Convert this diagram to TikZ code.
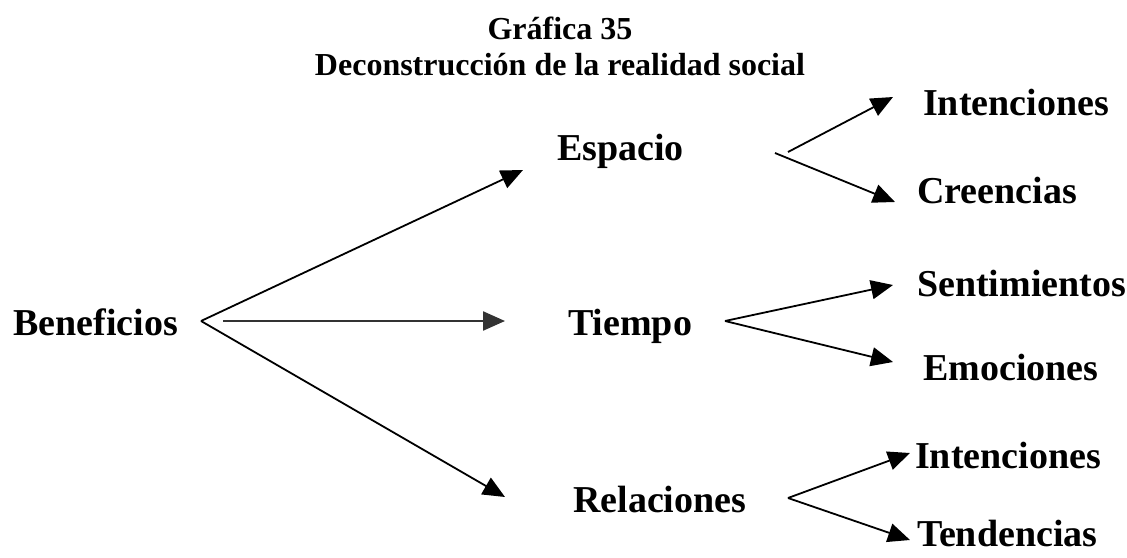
\documentclass[tikz,border=0pt]{standalone}
\usepackage{fontspec}
\setmainfont{Liberation Serif}
\usetikzlibrary{arrows.meta}

\begin{document}
\begin{tikzpicture}[x=1pt, y=-1pt,
    titlenode/.style={font=\fontsize{32}{36}\selectfont\bfseries, inner sep=0pt, anchor=base},
    itemnode/.style={font=\fontsize{38}{44}\selectfont\bfseries, inner sep=0pt, anchor=base west},
    branch/.style={-{Triangle[length=22pt, width=19pt]}, line width=1.8pt},
  ]
  \useasboundingbox (0,0) rectangle (1127,557);
  % title
  \node[titlenode] (T1) at (560,39) {Gráfica 35};
  \node[titlenode] (T2) at (560,75) {Deconstrucción de la realidad social};
  % first level
  \node[itemnode] (Ben)  at (13,335)  {Beneficios};
  \node[itemnode] (Esp)  at (557,160) {Espacio};
  \node[itemnode] (Tie)  at (568,335) {Tiempo};
  \node[itemnode] (Rel)  at (573,512) {Relaciones};
  % second level
  \node[itemnode] (Int1) at (923,115) {Intenciones};
  \node[itemnode] (Cre)  at (917,203) {Creencias};
  \node[itemnode] (Sen)  at (917,296) {Sentimientos};
  \node[itemnode] (Emo)  at (923,380) {Emociones};
  \node[itemnode] (Int2) at (915,468) {Intenciones};
  \node[itemnode] (Ten)  at (917,546) {Tendencias};
  % fork points and arrow ends
  \coordinate (BenF)  at (201,321);
  \coordinate (BenM)  at (223,321);
  \coordinate (EspT)  at (523,170);
  \coordinate (TieT)  at (505,321);
  \coordinate (RelT)  at (505,497);
  \coordinate (EspFa) at (788,152);
  \coordinate (EspFb) at (775,153);
  \coordinate (Int1T) at (893,97);
  \coordinate (CreT)  at (895,202);
  \coordinate (TieF)  at (725,321);
  \coordinate (SenT)  at (893,285);
  \coordinate (EmoT)  at (893,362);
  \coordinate (RelF)  at (788,498);
  \coordinate (Int2T) at (910,453);
  \coordinate (TenT)  at (910,540);
  \draw[branch] (BenF) -- (EspT);
  \draw[branch, line width=2.4pt, black!80] (BenM) -- (TieT);
  \draw[branch] (BenF) -- (RelT);
  \draw[branch] (EspFa) -- (Int1T);
  \draw[branch] (EspFb) -- (CreT);
  \draw[branch] (TieF) -- (SenT);
  \draw[branch] (TieF) -- (EmoT);
  \draw[branch] (RelF) -- (Int2T);
  \draw[branch] (RelF) -- (TenT);
\end{tikzpicture}
\end{document}
